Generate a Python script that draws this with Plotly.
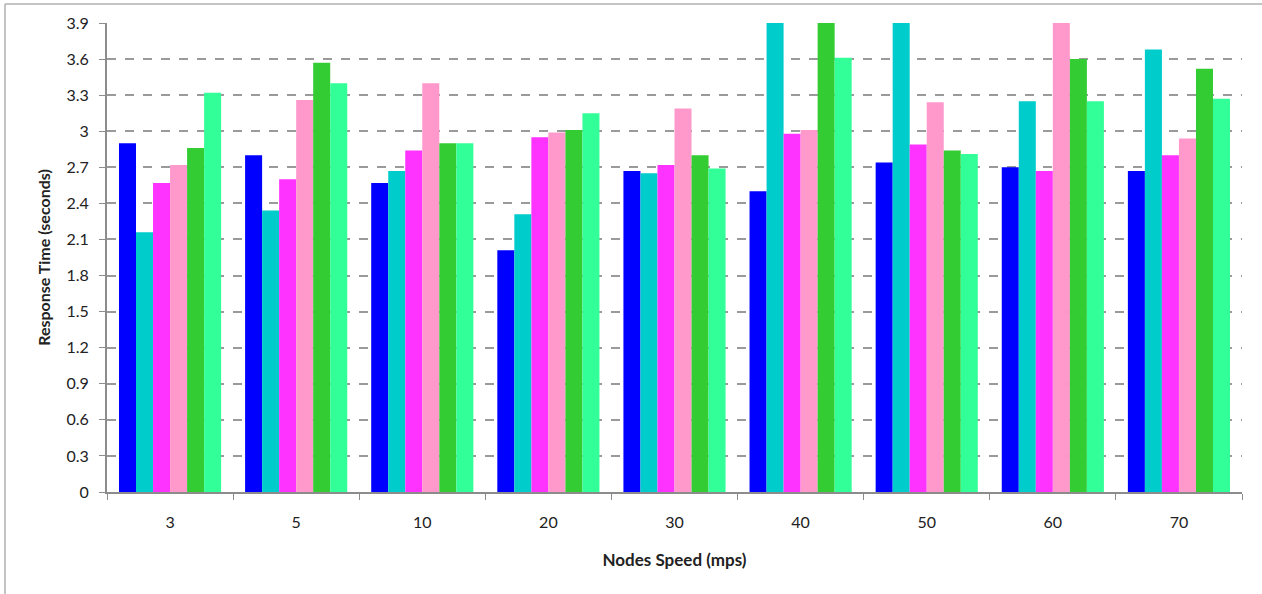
import plotly.graph_objects as go

categories = ["3", "5", "10", "20", "30", "40", "50", "60", "70"]
series_names = ["S1", "S2", "S3", "S4", "S5", "S6"]
s1 = [2.90, 2.80, 2.57, 2.01, 2.67, 2.50, 2.74, 2.70, 2.67]
s2 = [2.16, 2.34, 2.67, 2.31, 2.65, 4.05, 4.05, 3.25, 3.68]
s3 = [2.57, 2.60, 2.84, 2.95, 2.72, 2.98, 2.89, 2.67, 2.80]
s4 = [2.72, 3.26, 3.40, 2.99, 3.19, 3.01, 3.24, 4.05, 2.94]
s5 = [2.86, 3.57, 2.90, 3.01, 2.80, 4.05, 2.84, 3.60, 3.52]
s6 = [3.32, 3.40, 2.90, 3.15, 2.69, 3.61, 2.81, 3.25, 3.27]
series_values = [s1, s2, s3, s4, s5, s6]
colors = ["#0000FF", "#00CCCC", "#FF33FF", "#FF99CC", "#33CC33", "#33FF99"]
y_ticks = [0, 0.3, 0.6, 0.9, 1.2, 1.5, 1.8, 2.1, 2.4, 2.7, 3, 3.3, 3.6, 3.9]
y_tick_labels = ["0", "0.3", "0.6", "0.9", "1.2", "1.5", "1.8", "2.1", "2.4", "2.7", "3", "3.3", "3.6", "3.9"]

W, H = 1262, 594
L, R, T, B = 107, 20, 23, 102
pw, ph = W - L - R, H - T - B

fig = go.Figure()
for name, vals, c in zip(series_names, series_values, colors):
    fig.add_trace(go.Bar(x=categories, y=vals, name=name, marker=dict(color=c, line=dict(width=0))))

def px_x(p):
    return (p - L) / pw

def px_y(p):
    return (H - B - p) / ph

font = "Lato, 'Open Sans', sans-serif"
fig.update_layout(
    width=W, height=H,
    margin=dict(l=L, r=R, t=T, b=B, autoexpand=False),
    paper_bgcolor="white", plot_bgcolor="white",
    barmode="group", bargap=0.19, bargroupgap=0,
    showlegend=False,
    font=dict(family=font, size=16, color="#222"),
    xaxis=dict(
        type="category", showgrid=False, showline=True, linecolor="#8c8c8c", linewidth=2,
        ticks="outside", tickson="boundaries", ticklen=6, tickcolor="#8c8c8c", tickwidth=1,
        ticklabelstandoff=15,
        title=dict(text="<b>Nodes Speed (mps)</b>", font=dict(size=17, family=font), standoff=24),
    ),
    yaxis=dict(
        range=[0, 3.9], tickvals=y_ticks, ticktext=y_tick_labels,
        showgrid=True, gridcolor="#9a9a9a", griddash="dash", gridwidth=1.5,
        showline=True, linecolor="#8c8c8c", linewidth=2,
        ticks="outside", ticklen=6, tickcolor="#8c8c8c", tickwidth=1,
        ticklabelstandoff=7, zeroline=False,
        title=dict(text="<b>Response Time (seconds)</b>", font=dict(size=16, family=font), standoff=12),
    ),
    shapes=[
        dict(type="line", xref="paper", yref="paper", x0=px_x(5), x1=px_x(1262), y0=px_y(4), y1=px_y(4),
             line=dict(color="#b0b0b0", width=1.5), layer="below"),
        dict(type="line", xref="paper", yref="paper", x0=px_x(5), x1=px_x(5), y0=px_y(4), y1=px_y(594),
             line=dict(color="#b0b0b0", width=1.5), layer="below"),
    ],
)

fig.write_html("out.html")
